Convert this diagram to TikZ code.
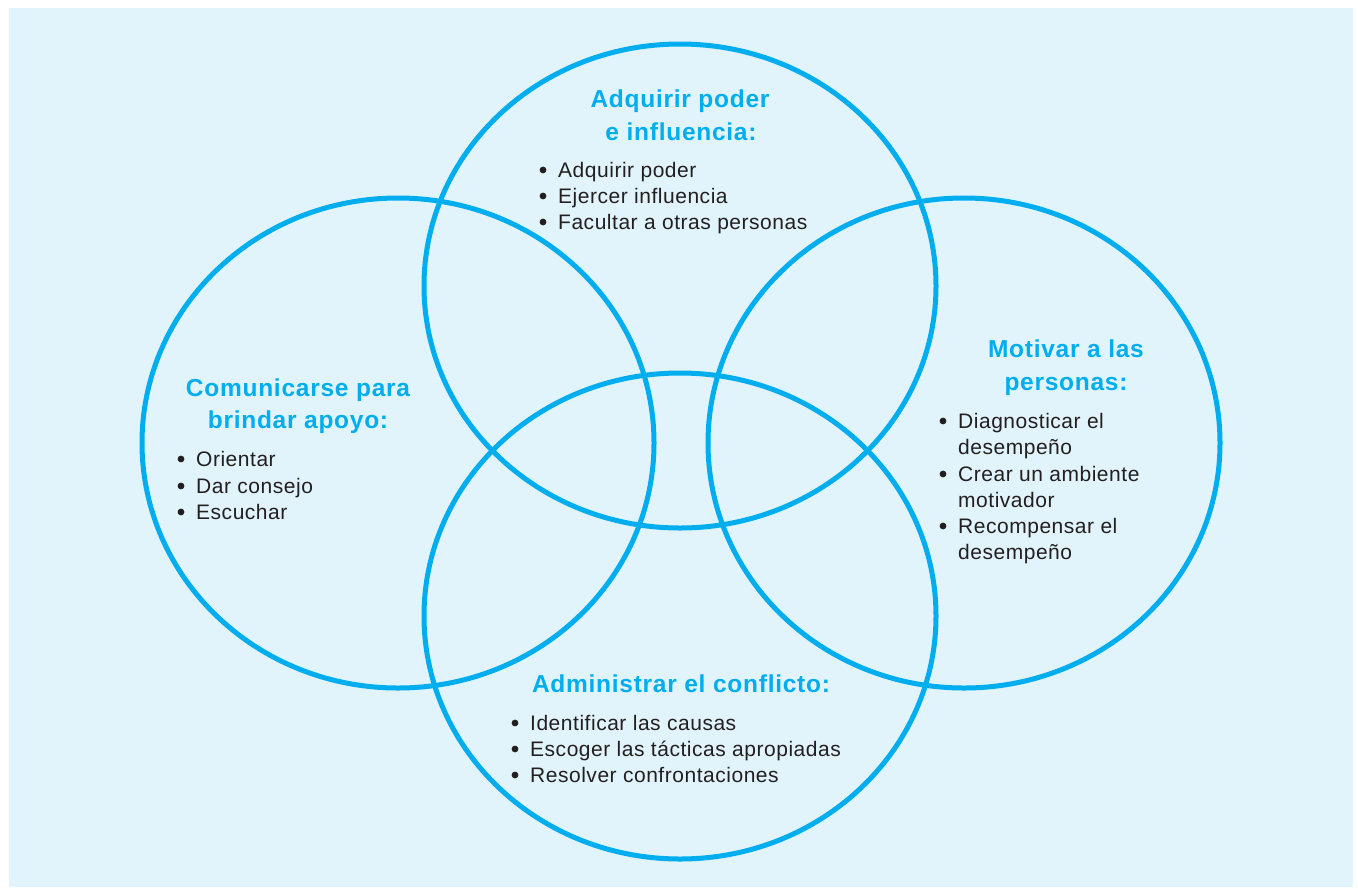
\documentclass[tikz,border=0pt]{standalone}
\usepackage{fontspec}
\setmainfont[LetterSpace=2.5]{Liberation Sans}
\newfontfamily\ttlfont[LetterSpace=3]{Liberation Sans Bold}
\definecolor{ring}{HTML}{00AEEF}
\definecolor{bgblue}{HTML}{E1F4FB}
\definecolor{ink}{HTML}{231F20}
\tikzset{
  ringline/.style={draw=ring, line width=5pt},
  ttl/.style={anchor=base, inner sep=0pt, text=ring, font=\fontsize{24.5}{28}\ttlfont},
  itm/.style={anchor=base west, inner sep=0pt, text=ink, font=\fontsize{21}{24}\selectfont},
  dotb/.style={fill=ink, draw=none}
}
\newcommand{\bul}[3]{\fill[dotb] (#1,#2-7) circle[radius=3.4pt];}
\begin{document}
\begin{tikzpicture}[x=1pt,y=-1pt]
\useasboundingbox (0,0) rectangle (1358,887);
\fill[white] (0,0) rectangle (1358,887);
\fill[bgblue] (9,8) rectangle (1353,887);
% rings
\draw[ringline] (680,286) ellipse [x radius=256pt, y radius=242pt];
\draw[ringline] (398,443) ellipse [x radius=256pt, y radius=245pt];
\draw[ringline] (964,443) ellipse [x radius=256pt, y radius=245pt];
\draw[ringline] (680,616) ellipse [x radius=256pt, y radius=243pt];
% top
\node[ttl] (t1) at (680,107) {Adquirir poder};
\node[ttl] (t2) at (681,140) {e influencia:};
\node[itm] (a1) at (558,177) {Adquirir poder};
\node[itm] (a2) at (558,203) {Ejercer influencia};
\node[itm] (a3) at (558,229) {Facultar a otras personas};
\bul{543}{177}{}\bul{543}{203}{}\bul{543}{229}{}
% left
\node[ttl] (l1) at (298,396) {Comunicarse para};
\node[ttl] (l2) at (298,428) {brindar apoyo:};
\node[itm] (b1) at (196,466) {Orientar};
\node[itm] (b2) at (196,493) {Dar consejo};
\node[itm] (b3) at (196,519) {Escuchar};
\bul{181}{466}{}\bul{181}{493}{}\bul{181}{519}{}
% right
\node[ttl] (r1) at (1066,357) {Motivar a las};
\node[ttl] (r2) at (1066,390) {personas:};
\node[itm] (c1) at (958,428) {Diagnosticar el};
\node[itm] (c2) at (958,454) {desempeño};
\node[itm] (c3) at (958,481) {Crear un ambiente};
\node[itm] (c4) at (958,507) {motivador};
\node[itm] (c5) at (958,533) {Recompensar el};
\node[itm] (c6) at (958,559) {desempeño};
\bul{943}{428}{}\bul{943}{481}{}\bul{943}{533}{}
% bottom
\node[ttl] (d0) at (681,692) {Administrar el conflicto:};
\node[itm] (d1) at (530,730) {Identificar las causas};
\node[itm] (d2) at (530,756) {Escoger las tácticas apropiadas};
\node[itm] (d3) at (530,782) {Resolver confrontaciones};
\bul{515}{730}{}\bul{515}{756}{}\bul{515}{782}{}
\end{tikzpicture}
\end{document}
